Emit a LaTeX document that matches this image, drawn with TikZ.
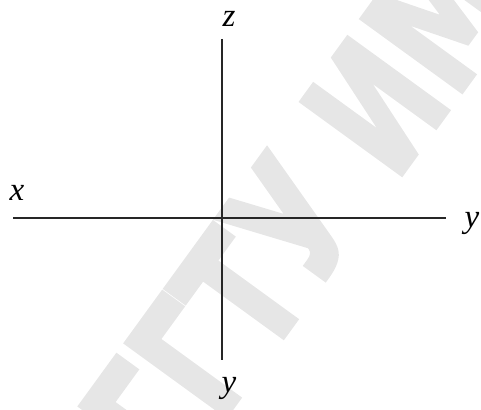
\documentclass[tikz,border=0pt]{standalone}
\usepackage{fontspec}
\setmainfont{Liberation Serif}
\newfontfamily\wmfont[BoldFeatures={FakeBold=2.5}]{DejaVu Sans}
\usetikzlibrary{positioning}
\definecolor{WmGray}{HTML}{E6E6E6}
\tikzset{
  eje/.style  = {line width=1.2pt, black!85},
  lbl/.style  = {font=\fontsize{33}{36}\selectfont\itshape, inner sep=0pt},
  marca/.style = {font=\wmfont\bfseries\fontsize{170}{170}\selectfont, text=WmGray,
                  inner sep=0pt, rotate=54, xscale=0.72},
}
\begin{document}
\begin{tikzpicture}[x=1pt,y=1pt]
  \useasboundingbox (0,0) rectangle (481,409);
  \begin{scope}
    \clip (0,0) rectangle (481,409);
    \node[marca] (marca) at (300,200) {ГГТУ ИМ};
  \end{scope}
  % ejes
  \coordinate (xa) at (13,191);
  \coordinate (ya) at (446,191);
  \coordinate (za) at (222,370);
  \coordinate (yb) at (222,49);
  \draw[eje] (xa) -- (ya);
  \draw[eje] (za) -- (yb);
  \node[lbl] (zlbl) at (229,390) {z};
  \node[lbl] (xlbl) at (17,216) {x};
  \node[lbl] (ylbl) at (472,186) {y};
  \node[lbl] (yblbl) at (229,21) {y};
\end{tikzpicture}
\end{document}
